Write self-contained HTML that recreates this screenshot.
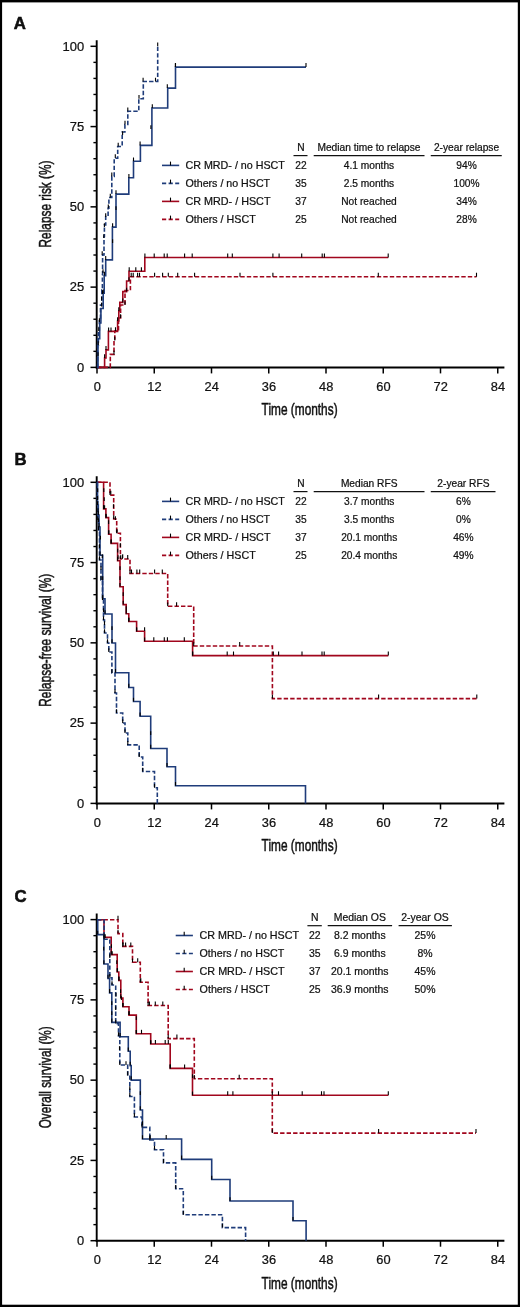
<!DOCTYPE html>
<html><head><meta charset="utf-8"><style>
html,body{margin:0;padding:0;background:#fff;}
svg{display:block;will-change:transform;}
text{font-family:"Liberation Sans", sans-serif;fill:#111;stroke:#111;stroke-width:0.22px;}
</style></head><body>
<svg width="520" height="1307" viewBox="0 0 520 1307">
<rect x="0" y="0" width="520" height="1307" fill="#000"/>
<rect x="2.1" y="2.4" width="515.7" height="1302.3" fill="#fff"/>
<text x="13.8" y="28.6" font-size="16.8" font-weight="bold" style="stroke:#000;stroke-width:0.5px">A</text>
<line x1="96.7" y1="40.3" x2="96.7" y2="368.4" stroke="#000" stroke-width="1.9"/>
<line x1="95.8" y1="367.5" x2="504.4" y2="367.5" stroke="#000" stroke-width="2"/>
<line x1="90.5" y1="367.40" x2="97.0" y2="367.40" stroke="#000" stroke-width="1.5"/>
<line x1="93.4" y1="351.34" x2="97.0" y2="351.34" stroke="#000" stroke-width="1.4"/>
<line x1="93.4" y1="335.29" x2="97.0" y2="335.29" stroke="#000" stroke-width="1.4"/>
<line x1="93.4" y1="319.23" x2="97.0" y2="319.23" stroke="#000" stroke-width="1.4"/>
<line x1="93.4" y1="303.18" x2="97.0" y2="303.18" stroke="#000" stroke-width="1.4"/>
<line x1="90.5" y1="287.12" x2="97.0" y2="287.12" stroke="#000" stroke-width="1.5"/>
<line x1="93.4" y1="271.07" x2="97.0" y2="271.07" stroke="#000" stroke-width="1.4"/>
<line x1="93.4" y1="255.01" x2="97.0" y2="255.01" stroke="#000" stroke-width="1.4"/>
<line x1="93.4" y1="238.96" x2="97.0" y2="238.96" stroke="#000" stroke-width="1.4"/>
<line x1="93.4" y1="222.91" x2="97.0" y2="222.91" stroke="#000" stroke-width="1.4"/>
<line x1="90.5" y1="206.85" x2="97.0" y2="206.85" stroke="#000" stroke-width="1.5"/>
<line x1="93.4" y1="190.80" x2="97.0" y2="190.80" stroke="#000" stroke-width="1.4"/>
<line x1="93.4" y1="174.74" x2="97.0" y2="174.74" stroke="#000" stroke-width="1.4"/>
<line x1="93.4" y1="158.69" x2="97.0" y2="158.69" stroke="#000" stroke-width="1.4"/>
<line x1="93.4" y1="142.63" x2="97.0" y2="142.63" stroke="#000" stroke-width="1.4"/>
<line x1="90.5" y1="126.58" x2="97.0" y2="126.58" stroke="#000" stroke-width="1.5"/>
<line x1="93.4" y1="110.52" x2="97.0" y2="110.52" stroke="#000" stroke-width="1.4"/>
<line x1="93.4" y1="94.46" x2="97.0" y2="94.46" stroke="#000" stroke-width="1.4"/>
<line x1="93.4" y1="78.41" x2="97.0" y2="78.41" stroke="#000" stroke-width="1.4"/>
<line x1="93.4" y1="62.36" x2="97.0" y2="62.36" stroke="#000" stroke-width="1.4"/>
<line x1="90.5" y1="46.30" x2="97.0" y2="46.30" stroke="#000" stroke-width="1.5"/>
<text transform="translate(84.2 371.60) scale(1.07 1)" text-anchor="end" font-size="12.1">0</text>
<text transform="translate(84.2 291.32) scale(1.07 1)" text-anchor="end" font-size="12.1">25</text>
<text transform="translate(84.2 211.05) scale(1.07 1)" text-anchor="end" font-size="12.1">50</text>
<text transform="translate(84.2 130.77) scale(1.07 1)" text-anchor="end" font-size="12.1">75</text>
<text transform="translate(84.2 50.50) scale(1.07 1)" text-anchor="end" font-size="12.1">100</text>
<line x1="97.00" y1="367.4" x2="97.00" y2="373.4" stroke="#000" stroke-width="1.5"/>
<text transform="translate(97.20 391.00) scale(1.07 1)" text-anchor="middle" font-size="12">0</text>
<line x1="154.25" y1="367.4" x2="154.25" y2="373.4" stroke="#000" stroke-width="1.5"/>
<text transform="translate(154.45 391.00) scale(1.07 1)" text-anchor="middle" font-size="12">12</text>
<line x1="211.50" y1="367.4" x2="211.50" y2="373.4" stroke="#000" stroke-width="1.5"/>
<text transform="translate(211.70 391.00) scale(1.07 1)" text-anchor="middle" font-size="12">24</text>
<line x1="268.75" y1="367.4" x2="268.75" y2="373.4" stroke="#000" stroke-width="1.5"/>
<text transform="translate(268.95 391.00) scale(1.07 1)" text-anchor="middle" font-size="12">36</text>
<line x1="326.00" y1="367.4" x2="326.00" y2="373.4" stroke="#000" stroke-width="1.5"/>
<text transform="translate(326.20 391.00) scale(1.07 1)" text-anchor="middle" font-size="12">48</text>
<line x1="383.25" y1="367.4" x2="383.25" y2="373.4" stroke="#000" stroke-width="1.5"/>
<text transform="translate(383.45 391.00) scale(1.07 1)" text-anchor="middle" font-size="12">60</text>
<line x1="440.50" y1="367.4" x2="440.50" y2="373.4" stroke="#000" stroke-width="1.5"/>
<text transform="translate(440.70 391.00) scale(1.07 1)" text-anchor="middle" font-size="12">72</text>
<line x1="497.75" y1="367.4" x2="497.75" y2="373.4" stroke="#000" stroke-width="1.5"/>
<text transform="translate(497.95 391.00) scale(1.07 1)" text-anchor="middle" font-size="12">84</text>
<text x="261.6" y="415.40" font-size="16.6" textLength="76.0" lengthAdjust="spacingAndGlyphs" style="stroke-width:0.5px">Time (months)</text>
<text transform="translate(50.9 204.00) rotate(-90)" x="0" y="0" text-anchor="middle" font-size="16.6" textLength="87" lengthAdjust="spacingAndGlyphs" style="stroke-width:0.5px">Relapse risk (%)</text>
<path d="M97 367.4H104.6V358H106V349.9H108.4V331.4H117.6V321H118.8V311H119.8V302.4H122.8V291.6H126.6V281H129V271.2H144.8V257.5H388.2" fill="none" stroke="#a1061d" stroke-width="1.6" stroke-linejoin="miter" stroke-linecap="butt"/>
<path d="M97 367.4H110.3V354.4H114V340.5H114.8V331H118.5V318H120.6V305H125V290.5H130.4V276.7H476.5" fill="none" stroke="#a1061d" stroke-width="1.6" stroke-linejoin="miter" stroke-linecap="butt" stroke-dasharray="4.4 2.1"/>
<path d="M97 367.4H97.6V345H98.4V330H99.4V318H100.5V305H101.8V290H102.4V275H102.6V255H104V236.5H104.4V225H105.7V215.2H108.1V208.2H108.9V197.5H111.8V176.4H114.2V158.3H117.7V146.5H122.2V132H124.9V124.5H127.8V111.2H138.8V98.7H143.3V81.5H157.7V46.3" fill="none" stroke="#1f3c7a" stroke-width="1.6" stroke-linejoin="miter" stroke-linecap="butt" stroke-dasharray="4.4 2.1"/>
<path d="M97 367.4H98V338.6H99.7V323H100.9V308.5H103.2V293.2H104.2V275.8H105.7V259.9H112.4V227.1H116V194.1H128.8V177.8H133.5V161.2H140.4V145.4H151.9V108H167.7V88.1H175.5V67.1H306" fill="none" stroke="#1f3c7a" stroke-width="1.6" stroke-linejoin="miter" stroke-linecap="butt"/>
<line x1="162.0" y1="165.4" x2="179.2" y2="165.4" stroke="#1f3c7a" stroke-width="1.6"/>
<line x1="170.5" y1="165.4" x2="170.5" y2="161.6" stroke="#000" stroke-width="1.1"/>
<text x="185.5" y="168.8" font-size="10.2" textLength="99.4" lengthAdjust="spacingAndGlyphs">CR MRD- / no HSCT</text>
<line x1="162.0" y1="183.4" x2="179.2" y2="183.4" stroke="#1f3c7a" stroke-width="1.6" stroke-dasharray="4.2 2.4"/>
<line x1="170.5" y1="183.4" x2="170.5" y2="179.6" stroke="#000" stroke-width="1.1"/>
<text x="185.5" y="186.8" font-size="10.2" textLength="84.6" lengthAdjust="spacingAndGlyphs">Others / no HSCT</text>
<line x1="162.0" y1="201.4" x2="179.2" y2="201.4" stroke="#a1061d" stroke-width="1.6"/>
<line x1="170.5" y1="201.4" x2="170.5" y2="197.6" stroke="#000" stroke-width="1.1"/>
<text x="185.5" y="204.8" font-size="10.2" textLength="85.0" lengthAdjust="spacingAndGlyphs">CR MRD- / HSCT</text>
<line x1="162.0" y1="219.4" x2="179.2" y2="219.4" stroke="#a1061d" stroke-width="1.6" stroke-dasharray="4.2 2.4"/>
<line x1="170.5" y1="219.4" x2="170.5" y2="215.6" stroke="#000" stroke-width="1.1"/>
<text x="185.5" y="222.8" font-size="10.2" textLength="70.2" lengthAdjust="spacingAndGlyphs">Others / HSCT</text>
<text x="300.9" y="150.8" text-anchor="middle" font-size="10.2">N</text>
<line x1="293.5" y1="155.60000000000002" x2="307.5" y2="155.60000000000002" stroke="#111" stroke-width="1.2"/>
<text x="369.0" y="150.8" text-anchor="middle" font-size="10.2">Median time to relapse</text>
<line x1="313.7" y1="155.60000000000002" x2="424.5" y2="155.60000000000002" stroke="#111" stroke-width="1.2"/>
<text x="466.5" y="150.8" text-anchor="middle" font-size="10.2">2-year relapse</text>
<line x1="430.75" y1="155.60000000000002" x2="501.75" y2="155.60000000000002" stroke="#111" stroke-width="1.2"/>
<text x="300.9" y="168.8" text-anchor="middle" font-size="10.2">22</text>
<text x="369.0" y="168.8" text-anchor="middle" font-size="10.2">4.1 months</text>
<text x="466.5" y="168.8" text-anchor="middle" font-size="10.2">94%</text>
<text x="300.9" y="186.8" text-anchor="middle" font-size="10.2">35</text>
<text x="369.0" y="186.8" text-anchor="middle" font-size="10.2">2.5 months</text>
<text x="466.5" y="186.8" text-anchor="middle" font-size="10.2">100%</text>
<text x="300.9" y="204.8" text-anchor="middle" font-size="10.2">37</text>
<text x="369.0" y="204.8" text-anchor="middle" font-size="10.2">Not reached</text>
<text x="466.5" y="204.8" text-anchor="middle" font-size="10.2">34%</text>
<text x="300.9" y="222.8" text-anchor="middle" font-size="10.2">25</text>
<text x="369.0" y="222.8" text-anchor="middle" font-size="10.2">Not reached</text>
<text x="466.5" y="222.8" text-anchor="middle" font-size="10.2">28%</text>
<text x="14.6" y="464.6" font-size="16.8" font-weight="bold" style="stroke:#000;stroke-width:0.5px">B</text>
<line x1="96.7" y1="476.3" x2="96.7" y2="804.4" stroke="#000" stroke-width="1.9"/>
<line x1="95.8" y1="803.5" x2="504.4" y2="803.5" stroke="#000" stroke-width="2"/>
<line x1="90.5" y1="803.40" x2="97.0" y2="803.40" stroke="#000" stroke-width="1.5"/>
<line x1="93.4" y1="787.35" x2="97.0" y2="787.35" stroke="#000" stroke-width="1.4"/>
<line x1="93.4" y1="771.29" x2="97.0" y2="771.29" stroke="#000" stroke-width="1.4"/>
<line x1="93.4" y1="755.24" x2="97.0" y2="755.24" stroke="#000" stroke-width="1.4"/>
<line x1="93.4" y1="739.18" x2="97.0" y2="739.18" stroke="#000" stroke-width="1.4"/>
<line x1="90.5" y1="723.12" x2="97.0" y2="723.12" stroke="#000" stroke-width="1.5"/>
<line x1="93.4" y1="707.07" x2="97.0" y2="707.07" stroke="#000" stroke-width="1.4"/>
<line x1="93.4" y1="691.01" x2="97.0" y2="691.01" stroke="#000" stroke-width="1.4"/>
<line x1="93.4" y1="674.96" x2="97.0" y2="674.96" stroke="#000" stroke-width="1.4"/>
<line x1="93.4" y1="658.90" x2="97.0" y2="658.90" stroke="#000" stroke-width="1.4"/>
<line x1="90.5" y1="642.85" x2="97.0" y2="642.85" stroke="#000" stroke-width="1.5"/>
<line x1="93.4" y1="626.80" x2="97.0" y2="626.80" stroke="#000" stroke-width="1.4"/>
<line x1="93.4" y1="610.74" x2="97.0" y2="610.74" stroke="#000" stroke-width="1.4"/>
<line x1="93.4" y1="594.68" x2="97.0" y2="594.68" stroke="#000" stroke-width="1.4"/>
<line x1="93.4" y1="578.63" x2="97.0" y2="578.63" stroke="#000" stroke-width="1.4"/>
<line x1="90.5" y1="562.58" x2="97.0" y2="562.58" stroke="#000" stroke-width="1.5"/>
<line x1="93.4" y1="546.52" x2="97.0" y2="546.52" stroke="#000" stroke-width="1.4"/>
<line x1="93.4" y1="530.46" x2="97.0" y2="530.46" stroke="#000" stroke-width="1.4"/>
<line x1="93.4" y1="514.41" x2="97.0" y2="514.41" stroke="#000" stroke-width="1.4"/>
<line x1="93.4" y1="498.36" x2="97.0" y2="498.36" stroke="#000" stroke-width="1.4"/>
<line x1="90.5" y1="482.30" x2="97.0" y2="482.30" stroke="#000" stroke-width="1.5"/>
<text transform="translate(84.2 807.60) scale(1.07 1)" text-anchor="end" font-size="12.1">0</text>
<text transform="translate(84.2 727.33) scale(1.07 1)" text-anchor="end" font-size="12.1">25</text>
<text transform="translate(84.2 647.05) scale(1.07 1)" text-anchor="end" font-size="12.1">50</text>
<text transform="translate(84.2 566.78) scale(1.07 1)" text-anchor="end" font-size="12.1">75</text>
<text transform="translate(84.2 486.50) scale(1.07 1)" text-anchor="end" font-size="12.1">100</text>
<line x1="97.00" y1="803.4" x2="97.00" y2="809.4" stroke="#000" stroke-width="1.5"/>
<text transform="translate(97.20 827.00) scale(1.07 1)" text-anchor="middle" font-size="12">0</text>
<line x1="154.25" y1="803.4" x2="154.25" y2="809.4" stroke="#000" stroke-width="1.5"/>
<text transform="translate(154.45 827.00) scale(1.07 1)" text-anchor="middle" font-size="12">12</text>
<line x1="211.50" y1="803.4" x2="211.50" y2="809.4" stroke="#000" stroke-width="1.5"/>
<text transform="translate(211.70 827.00) scale(1.07 1)" text-anchor="middle" font-size="12">24</text>
<line x1="268.75" y1="803.4" x2="268.75" y2="809.4" stroke="#000" stroke-width="1.5"/>
<text transform="translate(268.95 827.00) scale(1.07 1)" text-anchor="middle" font-size="12">36</text>
<line x1="326.00" y1="803.4" x2="326.00" y2="809.4" stroke="#000" stroke-width="1.5"/>
<text transform="translate(326.20 827.00) scale(1.07 1)" text-anchor="middle" font-size="12">48</text>
<line x1="383.25" y1="803.4" x2="383.25" y2="809.4" stroke="#000" stroke-width="1.5"/>
<text transform="translate(383.45 827.00) scale(1.07 1)" text-anchor="middle" font-size="12">60</text>
<line x1="440.50" y1="803.4" x2="440.50" y2="809.4" stroke="#000" stroke-width="1.5"/>
<text transform="translate(440.70 827.00) scale(1.07 1)" text-anchor="middle" font-size="12">72</text>
<line x1="497.75" y1="803.4" x2="497.75" y2="809.4" stroke="#000" stroke-width="1.5"/>
<text transform="translate(497.95 827.00) scale(1.07 1)" text-anchor="middle" font-size="12">84</text>
<text x="261.6" y="851.40" font-size="16.6" textLength="76.0" lengthAdjust="spacingAndGlyphs" style="stroke-width:0.5px">Time (months)</text>
<text transform="translate(50.9 640.20) rotate(-90)" x="0" y="0" text-anchor="middle" font-size="16.6" textLength="133" lengthAdjust="spacingAndGlyphs" style="stroke-width:0.5px">Relapse-free survival (%)</text>
<path d="M97 482.3H103.6V508.9H105.9V517.6H108.6V534.2H111.1V543.4H117.6V560.8H120V586.7H123.2V604.6H126.2V613.8H128.8V621.5H136.6V631.2H144.6V641.2H192.6V655.6H388.3" fill="none" stroke="#a1061d" stroke-width="1.6" stroke-linejoin="miter" stroke-linecap="butt"/>
<path d="M97 482.3H110V495.1H113.7V519H116.7V533.3H120.4V559H130V573.5H167.7V606.3H193.7V646H272.4V698.6H476.8" fill="none" stroke="#a1061d" stroke-width="1.6" stroke-linejoin="miter" stroke-linecap="butt" stroke-dasharray="4.4 2.1"/>
<path d="M97 482.3H97.4V500H97.8V520H98.6V530H99.5V560H101V580H102.5V600H103.5V620H104.5V633H107.5V643H108.8V652H111.9V673H115V693H116.5V713H122.7V723H125V733H127.8V744.9H139.2V757H142.7V771.5H154.5V787.7H157.3V803.4" fill="none" stroke="#1f3c7a" stroke-width="1.6" stroke-linejoin="miter" stroke-linecap="butt" stroke-dasharray="4.4 2.1"/>
<path d="M97 482.3H97.5V505H98.3V515H99V527H100V555.2H102.7V598.8H105V614H112V643H115.5V672.7H128.8V687.5H133.5V701.5H140.1V716.2H150.7V748.5H167V766.8H175.5V785.7H305.5V803.4" fill="none" stroke="#1f3c7a" stroke-width="1.6" stroke-linejoin="miter" stroke-linecap="butt"/>
<line x1="162.0" y1="501.40000000000003" x2="179.2" y2="501.40000000000003" stroke="#1f3c7a" stroke-width="1.6"/>
<line x1="170.5" y1="501.40000000000003" x2="170.5" y2="497.6" stroke="#000" stroke-width="1.1"/>
<text x="185.5" y="504.8" font-size="10.2" textLength="99.4" lengthAdjust="spacingAndGlyphs">CR MRD- / no HSCT</text>
<line x1="162.0" y1="519.4" x2="179.2" y2="519.4" stroke="#1f3c7a" stroke-width="1.6" stroke-dasharray="4.2 2.4"/>
<line x1="170.5" y1="519.4" x2="170.5" y2="515.6" stroke="#000" stroke-width="1.1"/>
<text x="185.5" y="522.8" font-size="10.2" textLength="84.6" lengthAdjust="spacingAndGlyphs">Others / no HSCT</text>
<line x1="162.0" y1="537.4" x2="179.2" y2="537.4" stroke="#a1061d" stroke-width="1.6"/>
<line x1="170.5" y1="537.4" x2="170.5" y2="533.6" stroke="#000" stroke-width="1.1"/>
<text x="185.5" y="540.8" font-size="10.2" textLength="85.0" lengthAdjust="spacingAndGlyphs">CR MRD- / HSCT</text>
<line x1="162.0" y1="555.4" x2="179.2" y2="555.4" stroke="#a1061d" stroke-width="1.6" stroke-dasharray="4.2 2.4"/>
<line x1="170.5" y1="555.4" x2="170.5" y2="551.6" stroke="#000" stroke-width="1.1"/>
<text x="185.5" y="558.8" font-size="10.2" textLength="70.2" lengthAdjust="spacingAndGlyphs">Others / HSCT</text>
<text x="300.9" y="486.8" text-anchor="middle" font-size="10.2">N</text>
<line x1="293.5" y1="491.6" x2="307.5" y2="491.6" stroke="#111" stroke-width="1.2"/>
<text x="369.2" y="486.8" text-anchor="middle" font-size="10.2">Median RFS</text>
<line x1="313.7" y1="491.6" x2="424.5" y2="491.6" stroke="#111" stroke-width="1.2"/>
<text x="463.4" y="486.8" text-anchor="middle" font-size="10.2">2-year RFS</text>
<line x1="430.75" y1="491.6" x2="495.5" y2="491.6" stroke="#111" stroke-width="1.2"/>
<text x="300.9" y="504.8" text-anchor="middle" font-size="10.2">22</text>
<text x="369.2" y="504.8" text-anchor="middle" font-size="10.2">3.7 months</text>
<text x="463.4" y="504.8" text-anchor="middle" font-size="10.2">6%</text>
<text x="300.9" y="522.8" text-anchor="middle" font-size="10.2">35</text>
<text x="369.2" y="522.8" text-anchor="middle" font-size="10.2">3.5 months</text>
<text x="463.4" y="522.8" text-anchor="middle" font-size="10.2">0%</text>
<text x="300.9" y="540.8" text-anchor="middle" font-size="10.2">37</text>
<text x="369.2" y="540.8" text-anchor="middle" font-size="10.2">20.1 months</text>
<text x="463.4" y="540.8" text-anchor="middle" font-size="10.2">46%</text>
<text x="300.9" y="558.8" text-anchor="middle" font-size="10.2">25</text>
<text x="369.2" y="558.8" text-anchor="middle" font-size="10.2">20.4 months</text>
<text x="463.4" y="558.8" text-anchor="middle" font-size="10.2">49%</text>
<text x="14.4" y="901.8" font-size="16.8" font-weight="bold" style="stroke:#000;stroke-width:0.5px">C</text>
<line x1="96.7" y1="913.5999999999999" x2="96.7" y2="1241.6999999999998" stroke="#000" stroke-width="1.9"/>
<line x1="95.8" y1="1240.7999999999997" x2="504.4" y2="1240.7999999999997" stroke="#000" stroke-width="2"/>
<line x1="90.5" y1="1240.70" x2="97.0" y2="1240.70" stroke="#000" stroke-width="1.5"/>
<line x1="93.4" y1="1224.64" x2="97.0" y2="1224.64" stroke="#000" stroke-width="1.4"/>
<line x1="93.4" y1="1208.59" x2="97.0" y2="1208.59" stroke="#000" stroke-width="1.4"/>
<line x1="93.4" y1="1192.53" x2="97.0" y2="1192.53" stroke="#000" stroke-width="1.4"/>
<line x1="93.4" y1="1176.48" x2="97.0" y2="1176.48" stroke="#000" stroke-width="1.4"/>
<line x1="90.5" y1="1160.42" x2="97.0" y2="1160.42" stroke="#000" stroke-width="1.5"/>
<line x1="93.4" y1="1144.37" x2="97.0" y2="1144.37" stroke="#000" stroke-width="1.4"/>
<line x1="93.4" y1="1128.31" x2="97.0" y2="1128.31" stroke="#000" stroke-width="1.4"/>
<line x1="93.4" y1="1112.26" x2="97.0" y2="1112.26" stroke="#000" stroke-width="1.4"/>
<line x1="93.4" y1="1096.20" x2="97.0" y2="1096.20" stroke="#000" stroke-width="1.4"/>
<line x1="90.5" y1="1080.15" x2="97.0" y2="1080.15" stroke="#000" stroke-width="1.5"/>
<line x1="93.4" y1="1064.09" x2="97.0" y2="1064.09" stroke="#000" stroke-width="1.4"/>
<line x1="93.4" y1="1048.04" x2="97.0" y2="1048.04" stroke="#000" stroke-width="1.4"/>
<line x1="93.4" y1="1031.98" x2="97.0" y2="1031.98" stroke="#000" stroke-width="1.4"/>
<line x1="93.4" y1="1015.93" x2="97.0" y2="1015.93" stroke="#000" stroke-width="1.4"/>
<line x1="90.5" y1="999.87" x2="97.0" y2="999.87" stroke="#000" stroke-width="1.5"/>
<line x1="93.4" y1="983.82" x2="97.0" y2="983.82" stroke="#000" stroke-width="1.4"/>
<line x1="93.4" y1="967.76" x2="97.0" y2="967.76" stroke="#000" stroke-width="1.4"/>
<line x1="93.4" y1="951.71" x2="97.0" y2="951.71" stroke="#000" stroke-width="1.4"/>
<line x1="93.4" y1="935.65" x2="97.0" y2="935.65" stroke="#000" stroke-width="1.4"/>
<line x1="90.5" y1="919.60" x2="97.0" y2="919.60" stroke="#000" stroke-width="1.5"/>
<text transform="translate(84.2 1244.90) scale(1.07 1)" text-anchor="end" font-size="12.1">0</text>
<text transform="translate(84.2 1164.62) scale(1.07 1)" text-anchor="end" font-size="12.1">25</text>
<text transform="translate(84.2 1084.35) scale(1.07 1)" text-anchor="end" font-size="12.1">50</text>
<text transform="translate(84.2 1004.07) scale(1.07 1)" text-anchor="end" font-size="12.1">75</text>
<text transform="translate(84.2 923.80) scale(1.07 1)" text-anchor="end" font-size="12.1">100</text>
<line x1="97.00" y1="1240.6999999999998" x2="97.00" y2="1246.6999999999998" stroke="#000" stroke-width="1.5"/>
<text transform="translate(97.20 1264.30) scale(1.07 1)" text-anchor="middle" font-size="12">0</text>
<line x1="154.25" y1="1240.6999999999998" x2="154.25" y2="1246.6999999999998" stroke="#000" stroke-width="1.5"/>
<text transform="translate(154.45 1264.30) scale(1.07 1)" text-anchor="middle" font-size="12">12</text>
<line x1="211.50" y1="1240.6999999999998" x2="211.50" y2="1246.6999999999998" stroke="#000" stroke-width="1.5"/>
<text transform="translate(211.70 1264.30) scale(1.07 1)" text-anchor="middle" font-size="12">24</text>
<line x1="268.75" y1="1240.6999999999998" x2="268.75" y2="1246.6999999999998" stroke="#000" stroke-width="1.5"/>
<text transform="translate(268.95 1264.30) scale(1.07 1)" text-anchor="middle" font-size="12">36</text>
<line x1="326.00" y1="1240.6999999999998" x2="326.00" y2="1246.6999999999998" stroke="#000" stroke-width="1.5"/>
<text transform="translate(326.20 1264.30) scale(1.07 1)" text-anchor="middle" font-size="12">48</text>
<line x1="383.25" y1="1240.6999999999998" x2="383.25" y2="1246.6999999999998" stroke="#000" stroke-width="1.5"/>
<text transform="translate(383.45 1264.30) scale(1.07 1)" text-anchor="middle" font-size="12">60</text>
<line x1="440.50" y1="1240.6999999999998" x2="440.50" y2="1246.6999999999998" stroke="#000" stroke-width="1.5"/>
<text transform="translate(440.70 1264.30) scale(1.07 1)" text-anchor="middle" font-size="12">72</text>
<line x1="497.75" y1="1240.6999999999998" x2="497.75" y2="1246.6999999999998" stroke="#000" stroke-width="1.5"/>
<text transform="translate(497.95 1264.30) scale(1.07 1)" text-anchor="middle" font-size="12">84</text>
<text x="261.6" y="1288.70" font-size="16.6" textLength="76.0" lengthAdjust="spacingAndGlyphs" style="stroke-width:0.5px">Time (months)</text>
<text transform="translate(50.9 1077.30) rotate(-90)" x="0" y="0" text-anchor="middle" font-size="16.6" textLength="102" lengthAdjust="spacingAndGlyphs" style="stroke-width:0.5px">Overall survival (%)</text>
<path d="M97 919.7H104V937.4H111.2V954.6H117.2V972H118.8V980.4H120.8V998H122.9V1006.8H129V1015.1H136.3V1033.8H150.7V1044H170.2V1068.4H192.5V1095.2H388.3" fill="none" stroke="#a1061d" stroke-width="1.6" stroke-linejoin="miter" stroke-linecap="butt"/>
<path d="M97 919.7H118V933.6H122.8V946.4H132.5V962.3H140.3V982.2H148.1V1005.5H168.2V1038.6H194.3V1078.8H272.3V1133.1H476" fill="none" stroke="#a1061d" stroke-width="1.6" stroke-linejoin="miter" stroke-linecap="butt" stroke-dasharray="4.4 2.1"/>
<path d="M97 919.7H104.1V939.3H109.8V977.7H112V985H115.7V1023.6H118.5V1036H119.8V1065H127.7V1075.4H129.8V1096.5H134.4V1117H142V1127.4H149.8V1140H154.5V1149.7H163.5V1162.9H175.7V1188.8H183.3V1214.8H222.4V1227.6H245.6V1240.7" fill="none" stroke="#1f3c7a" stroke-width="1.6" stroke-linejoin="miter" stroke-linecap="butt" stroke-dasharray="4.4 2.1"/>
<path d="M97 919.7H97.7V934.6H103.9V964H108V978.5H109.6V992.9H111.8V1022.4H120.1V1036.8H128.3V1051.3H130.2V1065.6H131.2V1080.1H140.3V1110H142.5V1139H181.6V1159.4H211.7V1179.5H230V1201H293V1220.7H306.1V1240.7" fill="none" stroke="#1f3c7a" stroke-width="1.6" stroke-linejoin="miter" stroke-linecap="butt"/>
<line x1="175.7" y1="935.5" x2="192.89999999999998" y2="935.5" stroke="#1f3c7a" stroke-width="1.6"/>
<line x1="184.2" y1="935.5" x2="184.2" y2="931.7" stroke="#000" stroke-width="1.1"/>
<text x="199.6" y="938.9" font-size="10.2" textLength="99.4" lengthAdjust="spacingAndGlyphs">CR MRD- / no HSCT</text>
<line x1="175.7" y1="953.5" x2="192.89999999999998" y2="953.5" stroke="#1f3c7a" stroke-width="1.6" stroke-dasharray="4.2 2.4"/>
<line x1="184.2" y1="953.5" x2="184.2" y2="949.7" stroke="#000" stroke-width="1.1"/>
<text x="199.6" y="956.9" font-size="10.2" textLength="84.6" lengthAdjust="spacingAndGlyphs">Others / no HSCT</text>
<line x1="175.7" y1="971.5" x2="192.89999999999998" y2="971.5" stroke="#a1061d" stroke-width="1.6"/>
<line x1="184.2" y1="971.5" x2="184.2" y2="967.7" stroke="#000" stroke-width="1.1"/>
<text x="199.6" y="974.9" font-size="10.2" textLength="85.0" lengthAdjust="spacingAndGlyphs">CR MRD- / HSCT</text>
<line x1="175.7" y1="989.5" x2="192.89999999999998" y2="989.5" stroke="#a1061d" stroke-width="1.6" stroke-dasharray="4.2 2.4"/>
<line x1="184.2" y1="989.5" x2="184.2" y2="985.7" stroke="#000" stroke-width="1.1"/>
<text x="199.6" y="992.9" font-size="10.2" textLength="70.2" lengthAdjust="spacingAndGlyphs">Others / HSCT</text>
<text x="314.7" y="920.9" text-anchor="middle" font-size="10.45">N</text>
<line x1="307.4" y1="925.6999999999999" x2="321.8" y2="925.6999999999999" stroke="#111" stroke-width="1.2"/>
<text x="359.8" y="920.9" text-anchor="middle" font-size="10.45">Median OS</text>
<line x1="327.7" y1="925.6999999999999" x2="392.1" y2="925.6999999999999" stroke="#111" stroke-width="1.2"/>
<text x="425.0" y="920.9" text-anchor="middle" font-size="10.45">2-year OS</text>
<line x1="398.6" y1="925.6999999999999" x2="451.9" y2="925.6999999999999" stroke="#111" stroke-width="1.2"/>
<text x="314.7" y="938.9" text-anchor="middle" font-size="10.45">22</text>
<text x="359.8" y="938.9" text-anchor="middle" font-size="10.45">8.2 months</text>
<text x="425.0" y="938.9" text-anchor="middle" font-size="10.45">25%</text>
<text x="314.7" y="956.9" text-anchor="middle" font-size="10.45">35</text>
<text x="359.8" y="956.9" text-anchor="middle" font-size="10.45">6.9 months</text>
<text x="425.0" y="956.9" text-anchor="middle" font-size="10.45">8%</text>
<text x="314.7" y="974.9" text-anchor="middle" font-size="10.45">37</text>
<text x="359.8" y="974.9" text-anchor="middle" font-size="10.45">20.1 months</text>
<text x="425.0" y="974.9" text-anchor="middle" font-size="10.45">45%</text>
<text x="314.7" y="992.9" text-anchor="middle" font-size="10.45">25</text>
<text x="359.8" y="992.9" text-anchor="middle" font-size="10.45">36.9 months</text>
<text x="425.0" y="992.9" text-anchor="middle" font-size="10.45">50%</text>
<path d="M144.9 257.5v-4.0M154.2 257.5v-4.0M164.2 257.5v-4.0M167.2 257.5v-4.0M184.6 257.5v-4.0M192.2 257.5v-4.0M227.7 257.5v-4.0M232.3 257.5v-4.0M272.9 257.5v-4.0M279.1 257.5v-4.0M301.7 257.5v-4.0M322.2 257.5v-4.0M324.4 257.5v-4.0M388.2 257.5v-4.0" stroke="#000" stroke-width="1.1" fill="none"/>
<path d="M131.2 276.7v-4.0M133.2 276.7v-4.0M137.6 276.7v-4.0M139.5 276.7v-4.0M154.6 276.7v-4.0M162.6 276.7v-4.0M168.3 276.7v-4.0M177.7 276.7v-4.0M194.6 276.7v-4.0M240 276.7v-4.0M272.9 276.7v-4.0M378.3 276.7v-4.0M476.5 276.7v-4.0" stroke="#000" stroke-width="1.1" fill="none"/>
<path d="M175.5 67.1v-4.0M306 67.1v-4.0" stroke="#000" stroke-width="1.1" fill="none"/>
<path d="M129.2 271.2v-4.0M135.8 271.2v-4.0M141.4 271.2v-4.0" stroke="#000" stroke-width="1.1" fill="none"/>
<path d="M175.4 67.1v-3.8M167.3 88.1v-3.8M152.3 108v-3.8M150.9 129v-3.8M140.1 145.4v-3.8M133.5 161.2v-3.8M128.9 177.8v-3.8M116 194.1v-3.8M116 210v-3.8M112.6 227.1v-3.8M112.6 243v-3.8M105.7 259.9v-3.8M104.4 275.5v-3.8M103.2 293.2v-3.8M101.6 300.5v-3.8M101.6 306.5v-3.8M99.4 322v-3.8M98.8 331v-3.8M98.2 345v-3.8M98 356v-3.8" stroke="#000" stroke-width="1.1" fill="none"/>
<path d="M157.7 46.3v-3.8M155.5 81.5v-3.8M143.1 81.5v-3.8M139 98.7v-3.8M127.8 111.2v-3.8M125 124.5v-3.8M122.6 135v-3.8M118.2 146.5v-3.8M115.3 158v-3.8M111.8 176.4v-3.8M110.3 197.5v-3.8M108.3 208.2v-3.8M105.7 217v-3.8M104.4 227v-3.8M103.8 238v-3.8M102.2 255v-3.8M103 273v-3.8M102.5 294v-3.8" stroke="#000" stroke-width="1.1" fill="none"/>
<path d="M108.6 331.4v-3.8M111 331.4v-3.8M117.6 321v-3.8M118.8 311v-3.8M122.8 302.4v-3.8M126.6 291.6v-3.8M129 281v-3.8M104.6 358v-3.8M106 349.9v-3.8" stroke="#000" stroke-width="1.1" fill="none"/>
<path d="M114 354.4v-3.8M114.8 340.5v-3.8M115.5 331v-3.8M120.6 318v-3.8M125 305v-3.8" stroke="#000" stroke-width="1.1" fill="none"/>
<path d="M103.6 508.9v-3.8M105.9 517.6v-3.8M108.6 534.2v-3.8M111.1 543.4v-3.8M117.6 560.8v-3.8M120.0 586.7v-3.8M123.2 604.6v-3.8M126.2 613.8v-3.8M128.8 621.5v-3.8M136.6 631.2v-3.8M144.6 641.2v-3.8M192.6 655.6v-3.8" stroke="#000" stroke-width="1.1" fill="none"/>
<path d="M110.0 495.1v-3.8M113.7 519.0v-3.8M116.7 533.3v-3.8M120.4 559.0v-3.8M130.0 573.5v-3.8M167.7 606.3v-3.8M193.7 646.0v-3.8M272.4 698.6v-3.8" stroke="#000" stroke-width="1.1" fill="none"/>
<path d="M97.4 500.0v-3.8M97.8 520.0v-3.8M98.6 530.0v-3.8M99.5 560.0v-3.8M101.0 580.0v-3.8M102.5 600.0v-3.8M103.5 620.0v-3.8M104.5 633.0v-3.8M107.5 643.0v-3.8M108.8 652.0v-3.8M111.9 673.0v-3.8M115.0 693.0v-3.8M116.5 713.0v-3.8M122.7 723.0v-3.8M125.0 733.0v-3.8M127.8 744.9v-3.8M139.2 757.0v-3.8M142.7 771.5v-3.8M154.5 787.7v-3.8" stroke="#000" stroke-width="1.1" fill="none"/>
<path d="M97.5 505.0v-3.8M98.3 515.0v-3.8M99.0 527.0v-3.8M100.0 555.2v-3.8M102.7 598.8v-3.8M105.0 614.0v-3.8M112.0 643.0v-3.8M115.5 672.7v-3.8M128.8 687.5v-3.8M133.5 701.5v-3.8M140.1 716.2v-3.8M150.7 748.5v-3.8M167.0 766.8v-3.8M175.5 785.7v-3.8" stroke="#000" stroke-width="1.1" fill="none"/>
<path d="M153.8 641.2v-4.0M164.3 641.2v-4.0M167.4 641.2v-4.0M184.3 641.2v-4.0" stroke="#000" stroke-width="1.1" fill="none"/>
<path d="M192.6 655.6v-4.0M227.2 655.6v-4.0M233.5 655.6v-4.0M273.3 655.6v-4.0M278.6 655.6v-4.0M302 655.6v-4.0M322 655.6v-4.0M324.2 655.6v-4.0M388.3 655.6v-4.0" stroke="#000" stroke-width="1.1" fill="none"/>
<path d="M122.3 559v-4.0M127.7 559v-4.0" stroke="#000" stroke-width="1.1" fill="none"/>
<path d="M131.5 573.5v-4.0M136.9 573.5v-4.0M139.7 573.5v-4.0M154.6 573.5v-4.0M162.3 573.5v-4.0" stroke="#000" stroke-width="1.1" fill="none"/>
<path d="M176.6 606.3v-4.0" stroke="#000" stroke-width="1.1" fill="none"/>
<path d="M239.7 646v-4.0" stroke="#000" stroke-width="1.1" fill="none"/>
<path d="M378.6 698.6v-4.0M476.8 698.6v-4.0" stroke="#000" stroke-width="1.1" fill="none"/>
<path d="M103.8 492v-3.8M104.2 501v-3.8M104.6 509v-3.8M106.2 518v-3.8M108.6 524v-3.8M108.8 534v-3.8M111.2 543.4v-3.8M117.7 552.6v-3.8M118 559v-3.8M120 570v-3.8M120 580v-3.8M123.2 596v-3.8M126.2 610v-3.8M128.8 621.5v-3.8M136.6 631.2v-3.8M144.6 631v-3.8" stroke="#000" stroke-width="1.1" fill="none"/>
<path d="M110.8 494.5v-3.8M113.5 508v-3.8M115.4 520v-3.8M117 533v-3.8M120.4 547v-3.8M122.7 558v-3.8" stroke="#000" stroke-width="1.1" fill="none"/>
<path d="M97.6 492v-3.8M97.6 500v-3.8M98 512v-3.8M98.4 522v-3.8M100.4 539.5v-3.8M102.3 558v-3.8M102.7 580v-3.8M112 630v-3.8M150.7 735v-3.8" stroke="#000" stroke-width="1.1" fill="none"/>
<path d="M99.5 548v-3.8M101 570v-3.8M103.5 612v-3.8M104.5 625v-3.8" stroke="#000" stroke-width="1.1" fill="none"/>
<path d="M104.0 937.4v-3.8M111.2 954.6v-3.8M117.2 972.0v-3.8M118.8 980.4v-3.8M120.8 998.0v-3.8M122.9 1006.8v-3.8M129.0 1015.1v-3.8M136.3 1033.8v-3.8M150.7 1044.0v-3.8M170.2 1068.4v-3.8M192.5 1095.2v-3.8" stroke="#000" stroke-width="1.1" fill="none"/>
<path d="M118.0 933.6v-3.8M122.8 946.4v-3.8M132.5 962.3v-3.8M140.3 982.2v-3.8M148.1 1005.5v-3.8M168.2 1038.6v-3.8M194.3 1078.8v-3.8M272.3 1133.1v-3.8" stroke="#000" stroke-width="1.1" fill="none"/>
<path d="M104.1 939.3v-3.8M109.8 977.7v-3.8M112.0 985.0v-3.8M115.7 1023.6v-3.8M118.5 1036.0v-3.8M119.8 1065.0v-3.8M127.7 1075.4v-3.8M129.8 1096.5v-3.8M134.4 1117.0v-3.8M142.0 1127.4v-3.8M149.8 1140.0v-3.8M154.5 1149.7v-3.8M163.5 1162.9v-3.8M175.7 1188.8v-3.8M183.3 1214.8v-3.8M222.4 1227.6v-3.8" stroke="#000" stroke-width="1.1" fill="none"/>
<path d="M97.7 934.6v-3.8M103.9 964.0v-3.8M108.0 978.5v-3.8M109.6 992.9v-3.8M111.8 1022.4v-3.8M120.1 1036.8v-3.8M128.3 1051.3v-3.8M130.2 1065.6v-3.8M131.2 1080.1v-3.8M140.3 1110.0v-3.8M142.5 1139.0v-3.8M181.6 1159.4v-3.8M211.7 1179.5v-3.8M230.0 1201.0v-3.8M293.0 1220.7v-3.8" stroke="#000" stroke-width="1.1" fill="none"/>
<path d="M118 919.7v-4.0" stroke="#000" stroke-width="1.1" fill="none"/>
<path d="M123 946.4v-4.0M125.6 946.4v-4.0M130.8 946.4v-4.0" stroke="#000" stroke-width="1.1" fill="none"/>
<path d="M137.7 962.3v-4.0" stroke="#000" stroke-width="1.1" fill="none"/>
<path d="M140.8 982.2v-4.0" stroke="#000" stroke-width="1.1" fill="none"/>
<path d="M149.4 1005.5v-4.0M155.3 1005.5v-4.0M162.8 1005.5v-4.0" stroke="#000" stroke-width="1.1" fill="none"/>
<path d="M176.9 1038.6v-4.0" stroke="#000" stroke-width="1.1" fill="none"/>
<path d="M239.2 1078.8v-4.0" stroke="#000" stroke-width="1.1" fill="none"/>
<path d="M378.6 1133.1v-4.0M476 1133.1v-4.0" stroke="#000" stroke-width="1.1" fill="none"/>
<path d="M141.5 1033.8v-4.0" stroke="#000" stroke-width="1.1" fill="none"/>
<path d="M155.4 1044v-4.0M165.2 1044v-4.0M168.3 1044v-4.0" stroke="#000" stroke-width="1.1" fill="none"/>
<path d="M184.6 1068.4v-4.0" stroke="#000" stroke-width="1.1" fill="none"/>
<path d="M227.7 1095.2v-4.0M232.9 1095.2v-4.0M272.3 1095.2v-4.0M278.5 1095.2v-4.0M302.2 1095.2v-4.0M321.5 1095.2v-4.0M324 1095.2v-4.0M388.3 1095.2v-4.0" stroke="#000" stroke-width="1.1" fill="none"/>
<path d="M150.1 1139v-4.0M166.2 1139v-4.0" stroke="#000" stroke-width="1.1" fill="none"/>
<path d="M103.7 950.5v-3.8M111.8 1005v-3.8M111.8 1015v-3.8M140.3 1095v-3.8M142.5 1125v-3.8" stroke="#000" stroke-width="1.1" fill="none"/>
<path d="M109.8 958v-3.8M116 996.6v-3.8M115.7 1010v-3.8M119.5 1050v-3.8M126 1065v-3.8M129.8 1090v-3.8" stroke="#000" stroke-width="1.1" fill="none"/>
<path d="M105.2 938v-3.8M111.4 948v-3.8M112.2 955v-3.8M116.8 964v-3.8M117.5 972v-3.8M119 980.5v-3.8M120.6 993v-3.8M121.4 1000v-3.8M122.9 1006.8v-3.8M129 1015.1v-3.8M136.3 1020v-3.8M136.3 1033.8v-3.8M150.7 1044v-3.8M170.2 1068.4v-3.8M192.5 1078v-3.8" stroke="#000" stroke-width="1.1" fill="none"/>
</svg>
</body></html>
